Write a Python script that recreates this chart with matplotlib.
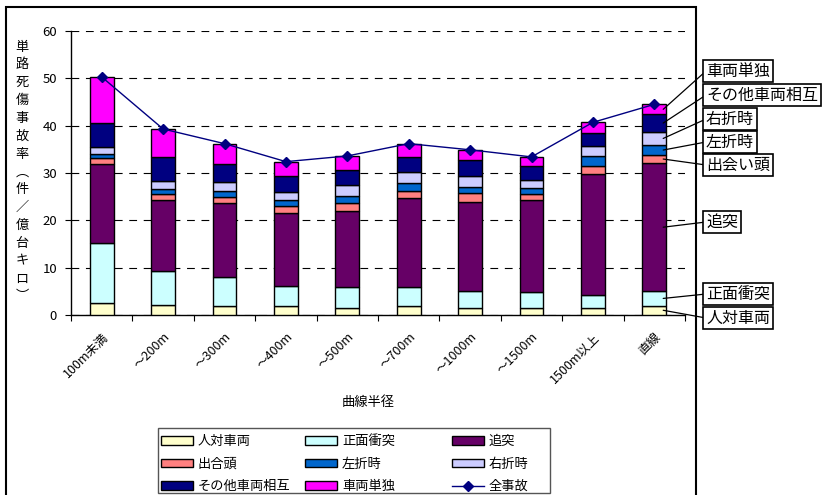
import numpy as np
import matplotlib
matplotlib.use("Agg")
import matplotlib.pyplot as plt
from matplotlib.patches import Patch, Rectangle
from matplotlib.lines import Line2D

plt.rcParams['font.family'] = ['Noto Sans CJK JP', 'DejaVu Sans']

# 曲線半径別 単路死傷事故率（件／億台キロ）
categories = ["100m未満", "～200m", "～300m", "～400m", "～500m",
              "～700m", "～1000m", "～1500m", "1500m以上", "直線"]

series_names = ["人対車両", "正面衝突", "追突", "出合頭", "左折時",
                "右折時", "その他車両相互", "車両単独"]
callout_names = ["人対車両", "正面衝突", "追突", "出会い頭", "左折時",
                 "右折時", "その他車両相互", "車両単独"]
hito_tai_sharyo = [2.5, 2.2, 1.8, 1.8, 1.5, 1.8, 1.5, 1.5, 1.5, 2.0]
shomen_shototsu = [12.8, 7.1, 6.2, 4.4, 4.5, 4.2, 3.5, 3.3, 2.8, 3.0]
tsuitotsu = [16.7, 15.0, 15.7, 15.4, 16.0, 18.8, 18.9, 19.5, 25.5, 27.1]
deaigashira = [1.1, 1.2, 1.2, 1.5, 1.6, 1.4, 1.8, 1.2, 1.7, 1.7]
sasetsu = [1.0, 1.1, 1.4, 1.2, 1.6, 1.6, 1.3, 1.4, 2.1, 2.1]
usetsu = [1.3, 1.7, 1.7, 1.6, 2.2, 2.5, 2.3, 1.7, 2.2, 2.8]
sonota_sogo = [5.1, 5.1, 3.8, 3.4, 3.2, 3.1, 3.4, 2.8, 2.7, 3.7]
sharyo_tandoku = [9.8, 5.9, 4.4, 3.1, 3.0, 2.8, 2.2, 2.0, 2.2, 2.1]

series_values = [hito_tai_sharyo, shomen_shototsu, tsuitotsu, deaigashira,
                 sasetsu, usetsu, sonota_sogo, sharyo_tandoku]
series_colors = ["#FFFFCC", "#CCFFFF", "#660066", "#FF8080",
                 "#0066CC", "#CCCCFF", "#000080", "#FF00FF"]
total_name = "全事故"
y_ticks = [0, 10, 20, 30, 40, 50, 60]

W, H = 824, 495
fig = plt.figure(figsize=(W / 100, H / 100), dpi=100)
fig.patch.set_facecolor("white")

def fx(px):
    return px / W

def fy(py):
    return 1 - py / H

ax = fig.add_axes([fx(71), fy(315), fx(685) - fx(71), fy(31) - fy(315)])

x = np.arange(len(categories))
bar_w = 0.39
bottom = np.zeros(len(categories))
for name, vals, col in zip(series_names, series_values, series_colors):
    vals = np.array(vals)
    ax.bar(x, vals, bar_w, bottom=bottom, color=col, edgecolor="black",
           linewidth=1.0, zorder=3)
    bottom = bottom + vals
totals = bottom.copy()

ax.plot(x, totals, color="#000080", linewidth=1.0, marker="D",
        markersize=5, zorder=4)

ax.set_xlim(-0.5, len(categories) - 0.5)
ax.set_ylim(0, 60)
ax.set_yticks(y_ticks)
ax.set_yticklabels([str(v) for v in y_ticks], fontsize=9.5)
ax.yaxis.grid(True, color="black", linestyle=(0, (7, 6)), linewidth=0.8, zorder=0)
ax.tick_params(axis="y", direction="out", length=4, width=0.8, pad=6)

ax.set_xticks(x)
ax.set_xticklabels(categories, rotation=45, ha="right", va="top",
                   rotation_mode="anchor", fontsize=9)
ax.set_xticks(np.arange(len(categories) + 1) - 0.5, minor=True)
ax.tick_params(axis="x", which="major", length=0, pad=11)
ax.tick_params(axis="x", which="minor", direction="out", length=4, width=0.8)

for s in ("top", "right"):
    ax.spines[s].set_visible(False)
for s in ("left", "bottom"):
    ax.spines[s].set_linewidth(1.0)

fig.text(fx(368), fy(402), "曲線半径", ha="center", va="center", fontsize=9.5)

# 縦書きの軸タイトル
ylabel = "単路死傷事故率︵件／億台キロ︶"
n = len(ylabel)
for i, ch in enumerate(ylabel):
    py = 47 + i * (297 - 47) / (n - 1)
    fig.text(fx(22), fy(py), ch, ha="center", va="center", fontsize=9.5)

# 直線カテゴリの各区分への引出し線ラベル
label_y = [318, 294, 222, 165, 142, 119, 95, 71]
cum = np.zeros(len(categories))
last = len(categories) - 1
for name, vals, ly in zip(callout_names, series_values, label_y):
    mid = cum[last] + vals[last] / 2
    cum = cum + np.array(vals)
    ax.annotate(name, xy=(last + bar_w / 2 - 0.05, mid),
                xytext=(706, H - ly), textcoords="figure pixels",
                ha="left", va="center", fontsize=11.5,
                bbox=dict(boxstyle="square,pad=0.16", fc="white",
                          ec="black", lw=1.2),
                arrowprops=dict(arrowstyle="-", color="black", lw=0.9,
                                relpos=(0, 0.5), shrinkA=0, shrinkB=0),
                annotation_clip=False, zorder=6)

# 凡例（3列）
handles = [Patch(facecolor=c, edgecolor="black", linewidth=1.0)
           for c in series_colors]
handles.append(Line2D([], [], color="#000080", linewidth=1.0, marker="D",
                      markersize=5))
labels = series_names + [total_name]
col_x = [161, 305, 452]
for c in range(3):
    idx = [c, c + 3, c + 6]
    fig.legend([handles[i] for i in idx], [labels[i] for i in idx],
               loc="upper left", bbox_to_anchor=(fx(col_x[c]), fy(435)),
               frameon=False, fontsize=9.5, handlelength=2.4,
               handleheight=0.6, handletextpad=0.4, labelspacing=0.72,
               borderpad=0.0, borderaxespad=0.0)
fig.add_artist(Rectangle((fx(158), fy(493)), fx(550) - fx(158), fy(428) - fy(493),
                         transform=fig.transFigure, fill=False,
                         edgecolor="#555555", linewidth=1.0))

# グラフエリア枠
fig.add_artist(Rectangle((fx(6), fy(520)), fx(696) - fx(6), fy(7) - fy(520),
                         transform=fig.transFigure, fill=False,
                         edgecolor="black", linewidth=1.5, clip_on=False,
                         zorder=0))

fig.savefig("out.png", dpi=100, facecolor="white")
